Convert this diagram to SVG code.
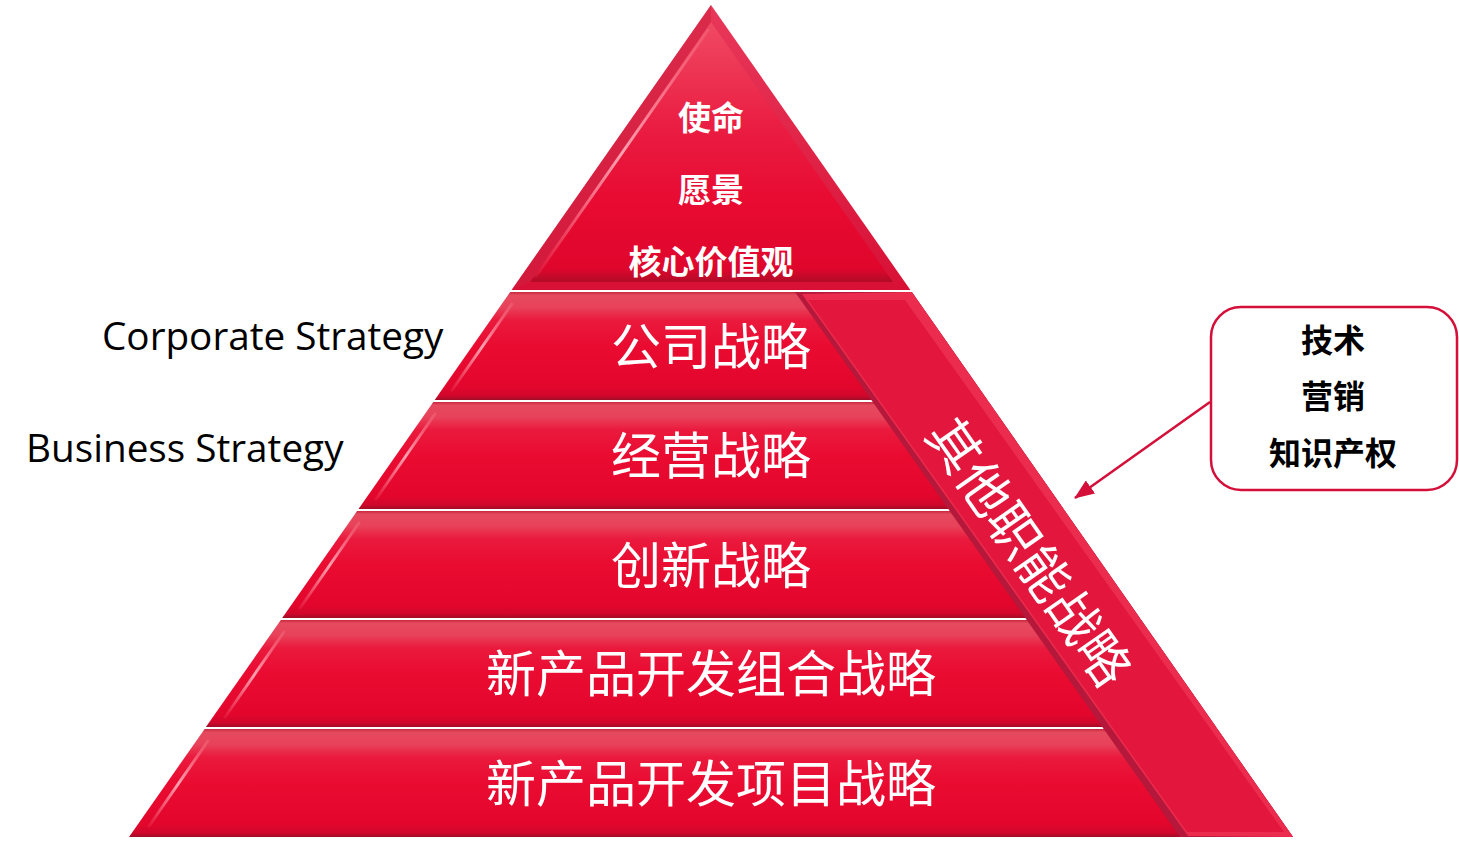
<svg xmlns="http://www.w3.org/2000/svg" width="1459" height="867" viewBox="0 0 1459 867">
<defs>
<linearGradient id="tierG" x1="0" y1="0" x2="0" y2="1">
<stop offset="0" stop-color="#c8283f"/>
<stop offset="0.03" stop-color="#e54a5e"/>
<stop offset="0.14" stop-color="#e8425a"/>
<stop offset="0.26" stop-color="#ea1a3d"/>
<stop offset="0.5" stop-color="#ea0b31"/>
<stop offset="0.88" stop-color="#e3062c"/>
<stop offset="0.96" stop-color="#d0072b"/>
<stop offset="1" stop-color="#a10d27"/>
</linearGradient>
<linearGradient id="triG" x1="0" y1="0" x2="0" y2="1">
<stop offset="0" stop-color="#f04a64"/>
<stop offset="0.4" stop-color="#ea1d42"/>
<stop offset="0.7" stop-color="#e80a31"/>
<stop offset="0.95" stop-color="#df062c"/>
<stop offset="1" stop-color="#b00c28"/>
</linearGradient>
<linearGradient id="rimG" x1="0" y1="0" x2="0" y2="1">
<stop offset="0" stop-color="#e8385a"/>
<stop offset="1" stop-color="#d81036"/>
</linearGradient>
<linearGradient id="hlG" x1="0" y1="0" x2="1" y2="0">
<stop offset="0" stop-color="#ff9aaa" stop-opacity="0.1"/>
<stop offset="0.5" stop-color="#ffb0bd" stop-opacity="0.9"/>
<stop offset="1" stop-color="#ff9aaa" stop-opacity="0.2"/>
</linearGradient>
<marker id="arr" viewBox="0 0 20 16" refX="19" refY="8" markerWidth="20" markerHeight="16" orient="auto" markerUnits="userSpaceOnUse">
<path d="M0,0 L20,8 L0,16 z" fill="#d4103a"/>
</marker>
<style>
.tier{fill:url(#tierG);}
.hl{fill:none;stroke:url(#hlG);stroke-width:3;stroke-linecap:round;}
.tt{font-family:"Noto Sans CJK SC","Noto Sans",sans-serif;font-size:50px;fill:#ffffff;text-anchor:middle;}
.tb{font-family:"Noto Sans CJK SC","Noto Sans",sans-serif;font-size:33px;font-weight:bold;fill:#ffffff;text-anchor:middle;}
.bx{font-family:"Noto Sans CJK SC","Noto Sans",sans-serif;font-size:32px;font-weight:bold;fill:#000000;text-anchor:middle;}
.en{font-family:"Open Sans","Noto Sans",sans-serif;font-size:38.7px;fill:#000000;}
</style>
</defs>
<rect width="1459" height="867" fill="#ffffff"/>

<g id="apex">
<polygon points="711,5 511.6,290 910.4,290" fill="url(#rimG)"/>
<polygon points="711,22 530,282 893,282" fill="url(#triG)"/>
<polygon points="711,5 711,22 530,282 511.6,290" fill="#d0203f" opacity="0.55"/>
<line x1="708" y1="30" x2="536" y2="276" class="hl"/>
<text class="tb" x="711" y="130">使命</text>
<text class="tb" x="711" y="202">愿景</text>
<text class="tb" x="711" y="274">核心价值观</text>
</g>

<g id="tier1">
<polygon class="tier" points="510.2,292 911.8,292 987.4,400 434.7,400"/>
<line x1="512" y1="304" x2="452" y2="390" class="hl"/>
<text class="tt" x="711" y="365">公司战略</text>
</g>
<g id="tier2">
<polygon class="tier" points="433.3,402 988.8,402 1063.6,509 358.5,509"/>
<line x1="435" y1="414" x2="376" y2="499" class="hl"/>
<text class="tt" x="711" y="474">经营战略</text>
</g>
<g id="tier3">
<polygon class="tier" points="357.1,511 1064.9,511 1139.8,618 282.2,618"/>
<line x1="359" y1="523" x2="300" y2="608" class="hl"/>
<text class="tt" x="711" y="584">创新战略</text>
</g>
<g id="tier4">
<polygon class="tier" points="280.8,620 1141.2,620 1216.1,727 205.9,727"/>
<line x1="284" y1="632" x2="225" y2="717" class="hl"/>
<text class="tt" x="711" y="692">新产品开发组合战略</text>
</g>
<g id="tier5">
<polygon class="tier" points="204.6,729 1217.4,729 1293,837 129,837"/>
<line x1="208" y1="741" x2="149" y2="826" class="hl"/>
<text class="tt" x="711" y="802">新产品开发项目战略</text>
</g>

<g id="strip">
<polygon points="795,292 911.8,292 1293,837 1180,837" fill="#b5183a"/>
<polygon points="802,294 911.8,292 1293,837 1188,836" fill="#ec2c4e"/>
<polygon points="808,300 905,300 1284,832 1187,832" fill="#e3173d"/>
<text x="1032" y="550" transform="rotate(55 1032 550)" font-family="'Noto Sans CJK SC','Noto Sans',sans-serif" font-size="52" fill="#ffffff" text-anchor="middle" dominant-baseline="central">其他职能战略</text>
</g>

<g id="labels">
<text class="en" x="102" y="350">Corporate Strategy</text>
<text class="en" x="26" y="462">Business Strategy</text>
</g>

<g id="box">
<rect x="1211" y="307" width="246" height="183" rx="30" ry="30" fill="#ffffff" stroke="#d4103a" stroke-width="2.5"/>
<text class="bx" x="1333" y="352">技术</text>
<text class="bx" x="1333" y="408">营销</text>
<text class="bx" x="1333" y="465">知识产权</text>
</g>

<g id="connectors">
<line x1="1210" y1="402" x2="1075" y2="498" stroke="#d4103a" stroke-width="2.5" marker-end="url(#arr)"/>
</g>
</svg>
